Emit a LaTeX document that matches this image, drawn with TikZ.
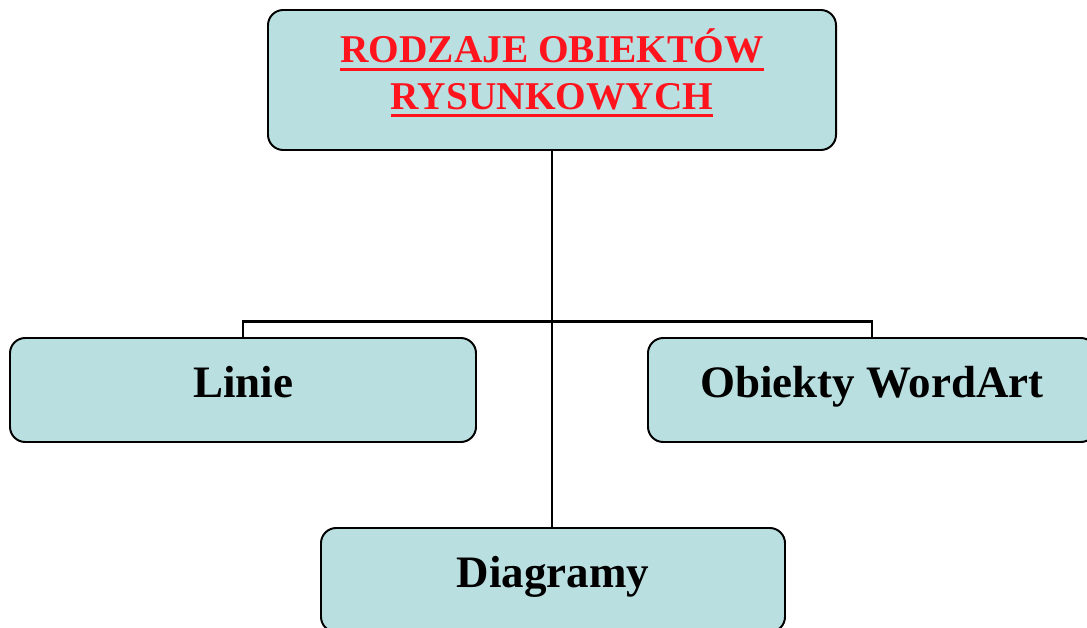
\documentclass[tikz,border=0pt]{standalone}
\usepackage{fontspec}
\setmainfont{Liberation Serif}
\usepackage{xcolor}
\usepackage{tikz}
\usetikzlibrary{positioning, calc}
\definecolor{boxfill}{RGB}{185,223,224}
\definecolor{titlered}{RGB}{255,20,30}
\newcommand{\ulbar}[1]{\setbox0\hbox{#1}\leavevmode\rlap{\rule[-6pt]{\wd0}{2.2pt}}\box0}

\tikzset{
    kind/.style={draw=black, line width=1.4pt, fill=boxfill, rounded corners=0.38cm,
        inner sep=0pt},
    leaf/.style={kind, minimum height=2.6cm, text height=0.8cm, text depth=0.45cm,
        font=\fontsize{32}{38}\selectfont\bfseries},
    branch/.style={line width=2pt}
}

\begin{document}
\begin{tikzpicture}
    % Frame of the picture
    \clip (0,0) rectangle (27.175,-15.675);

    % Boxes
    \node[kind, minimum width=14.2cm, minimum height=3.5cm, align=center,
        text=titlered, font=\fontsize{28}{33.3}\selectfont\bfseries] (rodzaje) at (13.8,-2.0)
        {\ulbar{RODZAJE OBIEKTÓW}\\\ulbar{RYSUNKOWYCH}\rule[-16pt]{0pt}{0pt}};
    \node[leaf, minimum width=11.65cm] (linie) at (6.075,-9.75) {Linie};
    \node[leaf, minimum width=11.2cm] (wordart) at (21.8,-9.75) {Obiekty WordArt};
    \node[leaf, minimum width=11.6cm] (diagramy) at (13.825,-14.5) {Diagramy};

    % Connectors
    \coordinate (split) at (13.8,-8.04);
    \draw[branch] (rodzaje.south) -- (rodzaje.south |- diagramy.north);
    \draw[branch] (linie.north) |- (split) -| (wordart.north);
\end{tikzpicture}
\end{document}
